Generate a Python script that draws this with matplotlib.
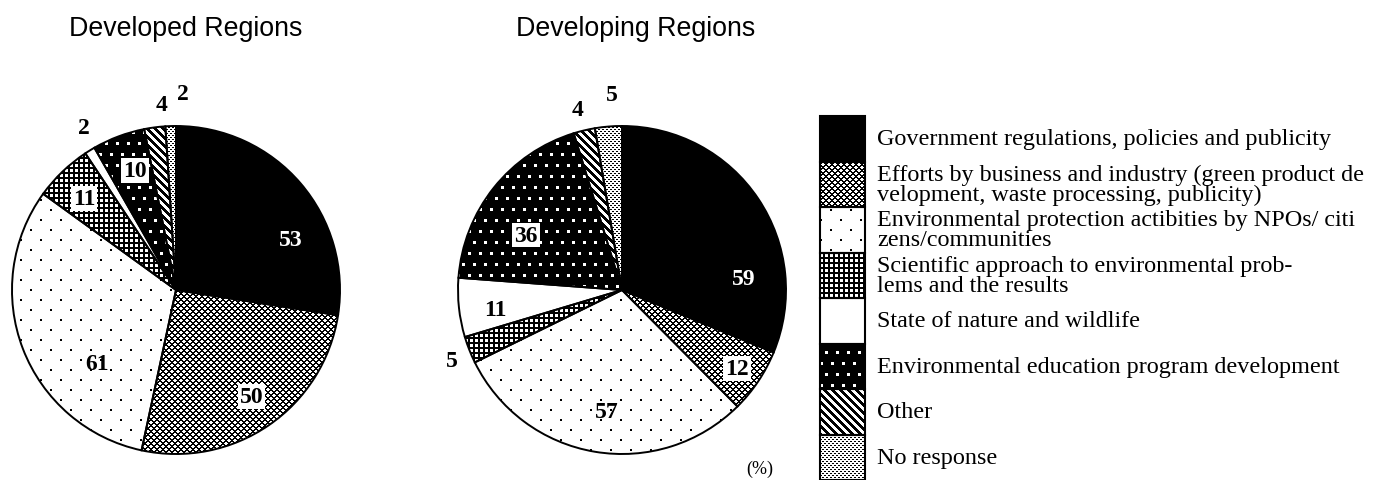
import numpy as np
import matplotlib
matplotlib.use("Agg")
import matplotlib.pyplot as plt
from matplotlib.patches import Rectangle

# ---- data -------------------------------------------------------------
categories = [
    "Government regulations, policies and publicity",
    "Efforts by business and industry (green product de\nvelopment, waste processing, publicity)",
    "Environmental protection actibities by NPOs/ citi\nzens/communities",
    "Scientific approach to environmental prob-\nlems and the results",
    "State of nature and wildlife",
    "Environmental education program development",
    "Other",
    "No response",
]
developed = [53, 50, 61, 11, 2, 10, 4, 2]
developing = [59, 12, 57, 5, 11, 36, 4, 5]
titles = ["Developed Regions", "Developing Regions"]
unit_label = "(%)"

# ---- layout (pixels) -----------------------------------------------------
W, H = 1375, 481
R = 164
pie_centers = [(176, 291), (622, 291)]
title_pos = [(186, 29), (636, 29)]

# label anchor points in pie units (x, y), one per slice
label_xy = [
    [(0.70, 0.31), (0.46, -0.65), (-0.48, -0.45), (-0.56, 0.56),
     (-0.56, 0.99), (-0.25, 0.73), (-0.085, 1.13), (0.04, 1.20)],
    [(0.74, 0.07), (0.70, -0.48), (-0.09, -0.74), (-1.04, -0.43),
     (-0.77, -0.12), (-0.585, 0.335), (-0.27, 1.10), (-0.06, 1.19)],
]
boxed = [{1, 3, 5}, {1, 5}]

legend_box_x, legend_box_w = 820, 45
legend_top, legend_pitch = 117, 45.5
legend_text_x = 877

# ---- fill textures (True = ink) -------------------------------------------
yy, xx = np.mgrid[0:H, 0:W]


def dot_grid(px, py, d, stagger):
    row = yy // py
    shift = (row % 2) * (px // 2) if stagger else 0
    return ((yy % py) < d) & (((xx + shift) % px) < d)


ink = [
    np.ones((H, W), bool),                                  # solid
    ((xx + yy) % 6 < 2) | ((xx - yy) % 6 < 2),              # diagonal lattice
    dot_grid(20, 10, 2, True),                              # sparse dots
    ~dot_grid(5, 5, 3, False),                              # dense light dots on dark
    np.zeros((H, W), bool),                                 # blank
    ~dot_grid(11, 11, 3, True),                             # light dots on dark
    (xx - yy) % 8 < 4,                                      # back-diagonal stripes
    (yy % 2 == 0) & ((xx + yy) % 4 < 2),                    # fine stipple
]


def to_rgba(mask):
    arr = np.full((H, W, 4), 255, np.uint8)
    arr[..., :3] = np.where(mask, 0, 255)[..., None].astype(np.uint8)
    return arr


textures = [to_rgba(m) for m in ink]

fig = plt.figure(figsize=(W / 100, H / 100), dpi=100)
fig.patch.set_facecolor("white")


def fill_with(texture, patch):
    im = fig.figimage(texture, xo=0, yo=0, origin="upper")
    im.set_interpolation("nearest")
    im.set_zorder(-1)
    im.set_clip_path(patch)


serif = "Liberation Serif"
sans = "Liberation Sans"

for k, (values, (cx, cy)) in enumerate(zip([developed, developing], pie_centers)):
    ext = 1.4 * R
    ax = fig.add_axes([(cx - ext) / W, (H - cy - ext) / H, 2 * ext / W, 2 * ext / H])
    wedges, _ = ax.pie(values, startangle=90, counterclock=False, radius=1,
                       colors=["none"] * len(values),
                       wedgeprops=dict(edgecolor="black", linewidth=1.4))
    ax.set_xlim(-1.4, 1.4)
    ax.set_ylim(-1.4, 1.4)
    ax.set_aspect("equal")
    ax.axis("off")
    ax.patch.set_visible(False)
    for w, tex in zip(wedges, textures):
        fill_with(tex, w)
    for i, (v, (lx, ly)) in enumerate(zip(values, label_xy[k])):
        kw = {}
        if i in boxed[k]:
            kw["bbox"] = dict(boxstyle="square,pad=0.08", fc="white", ec="none")
        ax.text(lx, ly, str(v), ha="center", va="center", family=serif,
                fontweight="bold", fontsize=17,
                color="white" if i == 0 else "black", **kw)
    tx, ty = title_pos[k]
    fig.text(tx / W, 1 - ty / H, titles[k], ha="center", va="center",
             family=sans, fontsize=19.3)

fig.text(760 / W, 1 - 469 / H, unit_label, ha="center", va="center",
         family=serif, fontsize=13)

# ---- legend ---------------------------------------------------------------
lax = fig.add_axes([0, 0, 1, 1])
lax.set_xlim(0, W)
lax.set_ylim(H, 0)
lax.axis("off")
lax.patch.set_visible(False)
for i, (label, tex) in enumerate(zip(categories, textures)):
    top = legend_top + i * legend_pitch
    box = Rectangle((legend_box_x, top), legend_box_w, legend_pitch,
                    facecolor="none", edgecolor="black", linewidth=1.5)
    lax.add_patch(box)
    fill_with(tex, box)
    lax.text(legend_text_x, top + legend_pitch / 2, label, ha="left", va="center",
             family=serif, fontsize=17.4, linespacing=0.92)

fig.savefig("out.png", dpi=100)
